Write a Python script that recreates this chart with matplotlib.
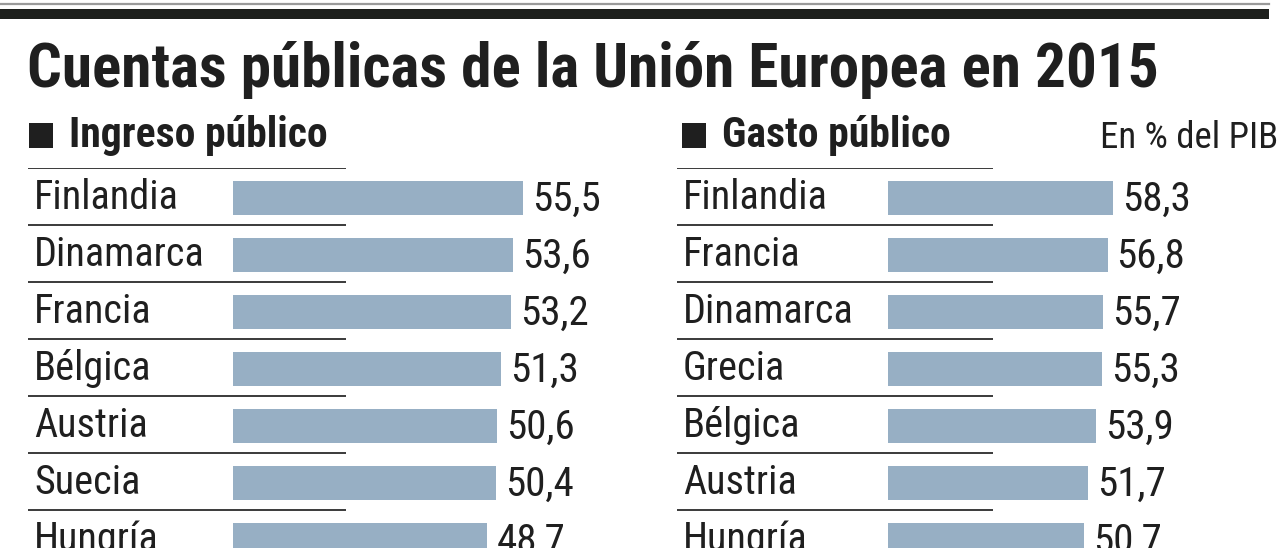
import matplotlib
matplotlib.use("Agg")
import matplotlib.pyplot as plt
from matplotlib import font_manager
from matplotlib.patches import Rectangle
from matplotlib.lines import Line2D
import matplotlib.transforms as mtransforms

# ---------------- data ----------------
title = "Cuentas públicas de la Unión Europea en 2015"
ingreso_title = "Ingreso público"
gasto_title = "Gasto público"
unit_note = "En % del PIB"

ingreso_paises = ["Finlandia", "Dinamarca", "Francia", "Bélgica", "Austria", "Suecia", "Hungría"]
ingreso_valores = [55.5, 53.6, 53.2, 51.3, 50.6, 50.4, 48.7]

gasto_paises = ["Finlandia", "Francia", "Dinamarca", "Grecia", "Bélgica", "Austria", "Hungría"]
gasto_valores = [58.3, 56.8, 55.7, 55.3, 53.9, 51.7, 50.7]

# ---------------- style ----------------
available = {f.name for f in font_manager.fontManager.ttflist}
def pick(*names):
    for n in names:
        if n in available:
            return n
    return "DejaVu Sans"

narrow = pick("Liberation Sans Narrow", "Roboto Condensed", "Roboto", "Liberation Sans")
BAR = "#97afc4"
INK = "#1f1f1f"
LINE = "#3a3a3a"

W, H = 1280, 548
fig = plt.figure(figsize=(W / 100, H / 100), dpi=100)
fig.patch.set_facecolor("white")

def fx(x):
    return x / W

def fy(y):
    return 1 - y / H

# top rules
fig.add_artist(Line2D([0, fx(1269)], [fy(3.5), fy(3.5)], transform=fig.transFigure,
                      color="#9a9a9a", lw=1.6))
fig.add_artist(Line2D([0, fx(1269)], [fy(14), fy(14)], transform=fig.transFigure,
                      color="#1d1f1c", lw=7.2, solid_capstyle="butt"))

# title
fig.text(fx(27), fy(87), title, fontsize=44, fontweight="heavy", family=narrow,
         color=INK, ha="left", va="baseline")

# section headers
for sx, sw, tx, label in [(29, 24, 69, ingreso_title), (682, 24, 722, gasto_title)]:
    fig.add_artist(Rectangle((fx(sx), fy(148)), fx(sw), 25 / H, transform=fig.transFigure,
                             facecolor=INK, edgecolor="none"))
    fig.text(fx(tx), fy(147), label, fontsize=30, fontweight="bold", family=narrow,
             color=INK, ha="left", va="baseline")
fig.text(fx(1278), fy(148), unit_note, fontsize=26.5, family=narrow, color=INK,
         ha="right", va="baseline")

ROW = 57.0      # px per row
TOP = 168.0     # px of first separator line
N_VIS = (H - TOP) / ROW

def panel(left_px, right_px, zero_px, px_per_unit, line_end_px, paises, valores):
    ax = fig.add_axes([fx(left_px), 0, fx(right_px - left_px), (H - TOP) / H])
    ax.set_xlim(-(zero_px - left_px) / px_per_unit, (right_px - zero_px) / px_per_unit)
    ax.set_ylim(-0.5 + N_VIS, -0.5)
    ax.axis("off")
    ypos = list(range(len(valores)))
    ax.barh([y + 0.03 for y in ypos], valores, height=0.6, color=BAR, left=0)
    lf = (line_end_px - left_px) / (right_px - left_px)
    ax.hlines([y - 0.5 for y in ypos], 0, lf, transform=ax.get_yaxis_transform(),
              color=LINE, lw=1.4)
    label_x = 6 / (right_px - left_px)
    for y, p, v in zip(ypos, paises, valores):
        ax.text(label_x, y + 0.22, p, transform=ax.get_yaxis_transform(),
                fontsize=29, family=narrow, color=INK, ha="left", va="baseline")
        off = mtransforms.offset_copy(ax.transData, fig=fig, x=9, y=0, units="dots")
        ax.text(v, y + 0.25, f"{v:.1f}".replace(".", ","), transform=off,
                fontsize=29.5, family=narrow, color=INK, ha="left", va="baseline")
    return ax

panel(28, 640, 233, 5.225, 346, ingreso_paises, ingreso_valores)
panel(677, 1280, 888, 3.865, 993, gasto_paises, gasto_valores)

fig.savefig("out.png", dpi=100, facecolor="white")
